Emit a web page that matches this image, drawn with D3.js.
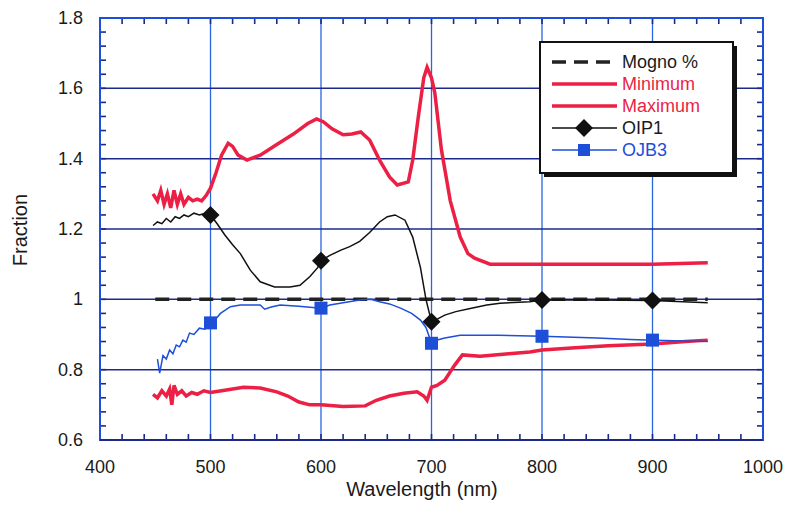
<!DOCTYPE html>
<html>
<head>
<meta charset="utf-8">
<script src="https://cdn.jsdelivr.net/npm/d3@7"></script>
<style>
  body { margin: 0; background: #fff; }
  text { font-family: "Liberation Sans", Arial, sans-serif; }
</style>
</head>
<body>
<div id="svg"></div>
<script>
// wavelength (nm) and fraction values
let mognoNm = [450, 950];
let mognoVal = [1.0, 1.0];

let maxNm = [448, 452, 455, 458, 461, 464, 467, 470, 473, 476, 480, 484, 488, 492, 496, 500, 505, 510, 516, 520, 525, 533, 545, 560, 575, 588, 596, 602, 610, 620, 628, 636, 644, 653, 662, 669, 679, 683, 688, 693, 696, 700, 703, 709, 717, 726, 733, 739, 753, 800, 850, 900, 950];
let maxVal = [1.30, 1.28, 1.31, 1.27, 1.30, 1.26, 1.31, 1.27, 1.30, 1.27, 1.29, 1.28, 1.285, 1.28, 1.295, 1.316, 1.36, 1.41, 1.444, 1.435, 1.41, 1.396, 1.41, 1.44, 1.47, 1.50, 1.513, 1.505, 1.485, 1.468, 1.47, 1.476, 1.453, 1.396, 1.348, 1.325, 1.334, 1.396, 1.518, 1.63, 1.66, 1.63, 1.587, 1.425, 1.28, 1.177, 1.13, 1.117, 1.10, 1.10, 1.10, 1.10, 1.104];

let minNm = [448, 452, 456, 460, 463, 465, 467, 470, 474, 478, 483, 488, 494, 500, 510, 520, 530, 545, 560, 570, 580, 590, 600, 620, 640, 650, 662, 675, 687, 693, 696, 700, 705, 712, 721, 728, 744, 770, 789, 800, 830, 860, 900, 930, 950];
let minVal = [0.73, 0.72, 0.74, 0.725, 0.745, 0.70, 0.755, 0.73, 0.74, 0.725, 0.735, 0.73, 0.74, 0.735, 0.74, 0.745, 0.75, 0.748, 0.737, 0.725, 0.708, 0.70, 0.70, 0.695, 0.697, 0.713, 0.725, 0.733, 0.737, 0.725, 0.713, 0.75, 0.755, 0.77, 0.813, 0.842, 0.838, 0.845, 0.85, 0.856, 0.862, 0.868, 0.873, 0.88, 0.884];

let oipNm = [448, 452, 456, 460, 464, 468, 472, 476, 480, 485, 490, 495, 500, 506, 513, 520, 527, 536, 545, 558, 572, 581, 590, 597, 600, 608, 618, 626, 635, 644, 653, 660, 667, 676, 683, 690, 695, 700, 706, 712, 722, 735, 750, 762, 789, 800, 850, 900, 950];
let oipVal = [1.21, 1.22, 1.215, 1.23, 1.22, 1.235, 1.23, 1.24, 1.235, 1.245, 1.24, 1.245, 1.24, 1.215, 1.183, 1.155, 1.13, 1.083, 1.05, 1.035, 1.035, 1.04, 1.065, 1.09, 1.11, 1.125, 1.14, 1.15, 1.165, 1.19, 1.22, 1.235, 1.24, 1.225, 1.177, 1.09, 1.0, 0.936, 0.945, 0.955, 0.965, 0.974, 0.984, 0.989, 0.993, 0.998, 0.998, 0.997, 0.99];

let ojbNm = [452, 454, 457, 460, 463, 466, 469, 472, 475, 478, 481, 485, 490, 495, 500, 505, 509, 518, 527, 545, 549, 555, 563, 580, 600, 608, 620, 635, 645, 653, 662, 672, 682, 690, 695, 700, 706, 712, 726, 760, 800, 850, 880, 900, 950];
let ojbVal = [0.83, 0.79, 0.84, 0.83, 0.856, 0.845, 0.87, 0.865, 0.884, 0.878, 0.904, 0.90, 0.918, 0.915, 0.933, 0.945, 0.96, 0.979, 0.984, 0.984, 0.972, 0.978, 0.984, 0.98, 0.975, 0.984, 0.99, 0.998, 1.0, 0.993, 0.987, 0.975, 0.96, 0.941, 0.92, 0.875, 0.885, 0.89, 0.898, 0.898, 0.895, 0.89, 0.886, 0.884, 0.88];

let markerNm = [500, 600, 700, 800, 900];

let xTicks = [400, 500, 600, 700, 800, 900, 1000];
let yTicks = [0.6, 0.8, 1, 1.2, 1.4, 1.6, 1.8];
let legendNames = ['Mogno %', 'Minimum', 'Maximum', 'OIP1', 'OJB3'];

let w = 793;
let h = 516;
let padLeft = 100, padRight = 763, padTop = 18, padBottom = 440;

let red = '#ec1f45';
let blue = '#1d4fd8';
let navy = '#1b2a8a';

let svg = d3.select('#svg')
          .append('svg')
          .attr('width', w)
          .attr('height', h);

let xScale = d3.scaleLinear().domain([400, 1000]).range([padLeft, padRight]);
let yScale = d3.scaleLinear().domain([0.6, 1.8]).range([padBottom, padTop]);

// gridlines
svg.append('g').selectAll('line')
   .data(xTicks.slice(1, -1))
   .enter().append('line')
   .attr('x1', d => xScale(d)).attr('x2', d => xScale(d))
   .attr('y1', padTop).attr('y2', padBottom)
   .style('stroke', '#2a66e0').style('stroke-width', 1.3);
svg.append('g').selectAll('line')
   .data(yTicks.slice(1, -1))
   .enter().append('line')
   .attr('x1', padLeft).attr('x2', padRight)
   .attr('y1', d => yScale(d)).attr('y2', d => yScale(d))
   .style('stroke', navy).style('stroke-width', 1.5);

// minor ticks, pointing inward on all sides
let xMinor = d3.range(400, 1001, 20);
let yMinor = d3.range(0, 31).map(i => 0.6 + i * 0.04);
let tickG = svg.append('g').style('stroke', navy).style('stroke-width', 1.6);
[padBottom, padTop].forEach((yy, k) => {
  tickG.selectAll(null).data(xMinor).enter().append('line')
       .attr('x1', d => xScale(d)).attr('x2', d => xScale(d))
       .attr('y1', yy).attr('y2', k === 0 ? yy - 6 : yy + 6);
});
[padLeft, padRight].forEach((xx, k) => {
  tickG.selectAll(null).data(yMinor).enter().append('line')
       .attr('y1', d => yScale(d)).attr('y2', d => yScale(d))
       .attr('x1', xx).attr('x2', k === 0 ? xx + 6 : xx - 6);
});

// frame
svg.append('rect')
   .attr('x', padLeft).attr('y', padTop)
   .attr('width', padRight - padLeft).attr('height', padBottom - padTop)
   .style('fill', 'none').style('stroke', blue).style('stroke-width', 2);
svg.append('line')
   .attr('x1', padLeft).attr('x2', padRight).attr('y1', padBottom).attr('y2', padBottom)
   .style('stroke', navy).style('stroke-width', 2);

// tick labels
svg.append('g').selectAll('text')
   .data(xTicks).enter().append('text')
   .attr('x', d => xScale(d)).attr('y', 473)
   .attr('text-anchor', 'middle')
   .style('font-size', '18px').style('fill', '#1a1a1a')
   .text(d => d);
svg.append('g').selectAll('text')
   .data(yTicks).enter().append('text')
   .attr('x', 83).attr('y', d => yScale(d) + 6)
   .attr('text-anchor', 'end')
   .style('font-size', '18px').style('fill', '#1a1a1a')
   .text(d => d3.format('')(d));

// axis titles
svg.append('text')
   .text('Wavelength (nm)')
   .attr('x', 422).attr('y', 496)
   .attr('text-anchor', 'middle')
   .style('font-size', '20px').style('fill', '#1a1a1a');
svg.append('text')
   .text('Fraction')
   .attr('transform', 'translate(27,230) rotate(-90)')
   .attr('text-anchor', 'middle')
   .style('font-size', '20px').style('fill', '#1a1a1a');

// series
let line = d3.line().x(d => xScale(d[0])).y(d => yScale(d[1]));
let zip = (a, b) => a.map((v, i) => [v, b[i]]);

svg.append('path').datum(zip(minNm, minVal)).attr('d', line)
   .style('fill', 'none').style('stroke', red).style('stroke-width', 3.5);
svg.append('path').datum(zip(maxNm, maxVal)).attr('d', line)
   .style('fill', 'none').style('stroke', red).style('stroke-width', 3.5);
svg.append('path').datum(zip(mognoNm, mognoVal)).attr('d', line)
   .style('fill', 'none').style('stroke', '#222').style('stroke-width', 3.5)
   .style('stroke-dasharray', '14,8');
svg.append('path').datum(zip(ojbNm, ojbVal)).attr('d', line)
   .style('fill', 'none').style('stroke', blue).style('stroke-width', 1.5);
svg.append('path').datum(zip(oipNm, oipVal)).attr('d', line)
   .style('fill', 'none').style('stroke', '#111').style('stroke-width', 1.5);

// markers
let oipMarks = markerNm.map(n => [n, oipVal[oipNm.indexOf(n)]]);
let ojbMarks = markerNm.map(n => [n, ojbVal[ojbNm.indexOf(n)]]);
let diamond = 'M0,-9L9,0L0,9L-9,0Z';
svg.append('g').selectAll('rect')
   .data(ojbMarks).enter().append('rect')
   .attr('x', d => xScale(d[0]) - 6.5).attr('y', d => yScale(d[1]) - 6.5)
   .attr('width', 13).attr('height', 13)
   .style('fill', blue);
svg.append('g').selectAll('path')
   .data(oipMarks).enter().append('path')
   .attr('d', diamond)
   .attr('transform', d => 'translate(' + xScale(d[0]) + ',' + yScale(d[1]) + ')')
   .style('fill', '#111');

// legend
let lg = svg.append('g');
lg.append('rect')
  .attr('x', 544).attr('y', 46).attr('width', 193).attr('height', 131)
  .style('fill', '#111');
lg.append('rect')
  .attr('x', 540).attr('y', 42).attr('width', 193).attr('height', 131)
  .style('fill', '#fff').style('stroke', '#111').style('stroke-width', 2);
let rowY = [62, 84, 106, 128, 150];
let legColors = ['#222', red, red, '#111', blue];
let legWidth = [3.5, 3.5, 3.5, 1.5, 1.5];
let legDash = ['14,8', null, null, null, null];
let legText = ['#1a1a1a', red, red, '#1a1a1a', blue];
legendNames.forEach((name, i) => {
  lg.append('line')
    .attr('x1', 552).attr('x2', 617).attr('y1', rowY[i]).attr('y2', rowY[i])
    .style('stroke', legColors[i]).style('stroke-width', legWidth[i])
    .style('stroke-dasharray', legDash[i]);
  lg.append('text')
    .text(name)
    .attr('x', 622).attr('y', rowY[i] + 6)
    .style('font-size', '18px').style('fill', legText[i]);
});
lg.append('path')
  .attr('d', diamond)
  .attr('transform', 'translate(584,' + rowY[3] + ')')
  .style('fill', '#111');
lg.append('rect')
  .attr('x', 578).attr('y', rowY[4] - 6).attr('width', 12).attr('height', 12)
  .style('fill', blue);
</script>
</body>
</html>
